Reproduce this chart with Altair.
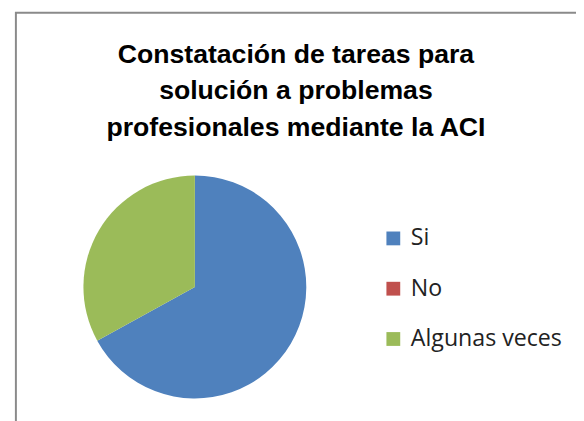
import altair as alt
import pandas as pd

categories = ["Si", "No", "Algunas veces"]
values = [67, 0, 33]
colors = ["#4F81BD", "#C0504D", "#9BBB59"]
title_lines = ["Constatación de tareas para", "solución a problemas", "profesionales mediante la ACI"]

W, H = 576, 413

df = pd.DataFrame({"cat": categories, "val": values, "ord": list(range(len(categories)))})
tdf = pd.DataFrame({"txt": ["\n".join(title_lines)]})

border = alt.Chart(pd.DataFrame({"a": [0]})).mark_rect(
    fill="white", stroke="#8a8a8a", strokeWidth=2
).encode(
    x=alt.value(8), y=alt.value(2), x2=alt.value(W + 20), y2=alt.value(H + 20)
)

pie = alt.Chart(df).mark_arc(radius=113).encode(
    theta=alt.Theta("val:Q", stack=True),
    color=alt.Color(
        "cat:N",
        scale=alt.Scale(domain=categories, range=colors),
        sort=categories,
        legend=alt.Legend(
            title=None,
            orient="none",
            legendX=379,
            legendY=219,
            symbolType="square",
            symbolSize=196,
            symbolStrokeWidth=0,
            labelFont="Open Sans",
            labelFontSize=23.5,
            labelColor="#222222",
            labelOffset=6,
            rowPadding=26,
            padding=0,
        ),
    ),
    order=alt.Order("ord:Q"),
    x=alt.value(189.5),
    y=alt.value(280),
)

title = alt.Chart(tdf).mark_text(
    font="Liberation Sans",
    fontWeight="bold",
    fontSize=27,
    align="center",
    baseline="alphabetic",
    lineBreak="\n",
    lineHeight=37,
    color="#000000",
).encode(text="txt:N", x=alt.value(292), y=alt.value(52.5))

chart = alt.layer(border, pie, title).properties(
    width=W, height=H, padding=0, autosize=alt.AutoSizeParams(type="none")
).configure_view(stroke=None)

chart.save("out.html", embed_options={"renderer": "svg", "actions": False})
